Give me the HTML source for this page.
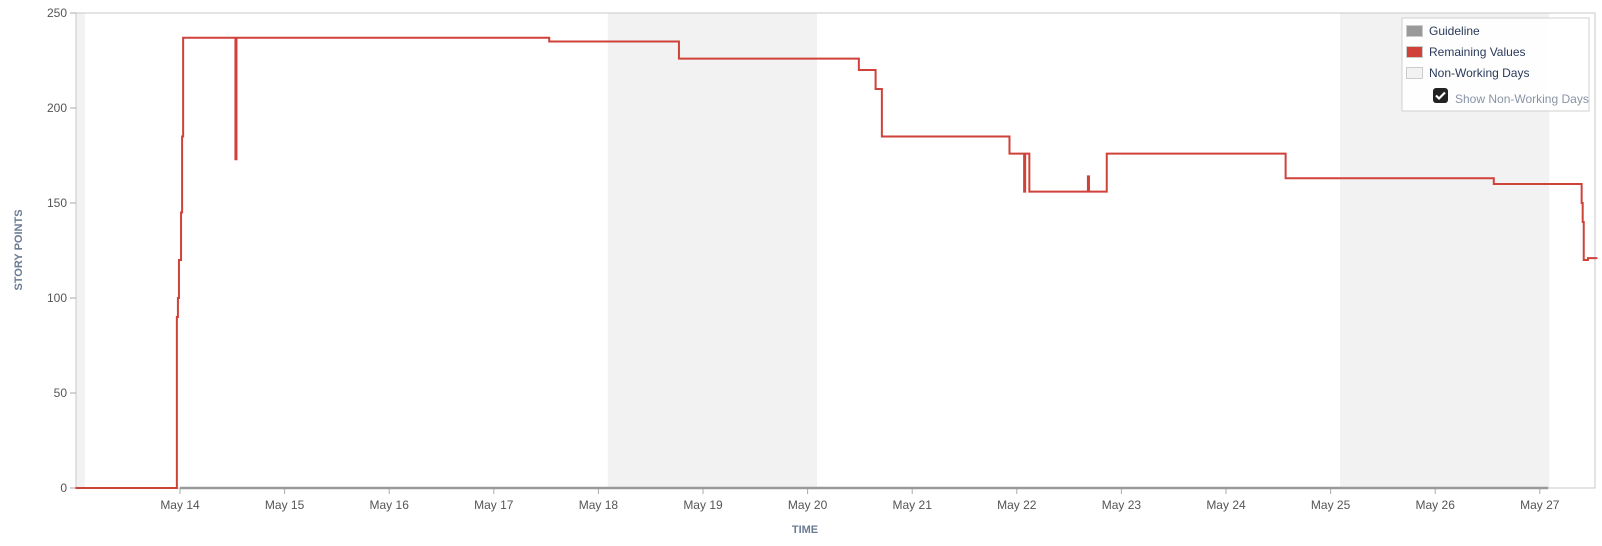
<!DOCTYPE html>
<html><head><meta charset="utf-8"><style>
body{margin:0;background:#fff;}
svg{display:block;font-family:"Liberation Sans","DejaVu Sans",sans-serif;}
</style></head><body>
<svg id="chart" width="1602" height="546" viewBox="0 0 1602 546">
<g id="shades"></g>
<rect x="76" y="13" width="1519" height="475" fill="none" stroke="#c8c8c8"/>
<g id="yaxis"></g><g id="xaxis"></g>
<g id="guide"></g><g id="series"></g>
<text x="22" y="250" transform="rotate(-90 22 250)" text-anchor="middle" font-size="11" font-weight="bold" fill="#6b7b94">STORY POINTS</text>
<text x="805" y="533" text-anchor="middle" font-size="11" font-weight="bold" fill="#6b7b94">TIME</text>
<g>
<rect x="1402" y="18" width="187" height="93" fill="#fff" fill-opacity="0.92" stroke="#d0d0d0"/>
<g><rect x="1406.5" y="25.5" width="16" height="11" fill="#999" stroke="#ccc"/><text x="1429" y="35" font-size="12" fill="#2a3a5a">Guideline</text></g>
<g><rect x="1406.5" y="46.5" width="16" height="11" fill="#d0413a" stroke="#ccc"/><text x="1429" y="56" font-size="12" fill="#2a3a5a">Remaining Values</text></g>
<g><rect x="1406.5" y="67.5" width="16" height="11" fill="#f2f2f2" stroke="#ccc"/><text x="1429" y="77" font-size="12" fill="#2a3a5a">Non-Working Days</text></g>
<g><rect x="1433" y="88" width="15" height="15" rx="3" fill="#222"/><path d="M1436 95.5l3 3 6-6" stroke="#fff" stroke-width="2.2" fill="none"/><text x="1455" y="103" font-size="12" fill="#8a94a6">Show Non-Working Days</text></g>
</g>
</svg>
<script>
const NS='http://www.w3.org/2000/svg';
// data: t = days since May 14 00:00
const yTicks=[0,50,100,150,200,250];
const xTickLabels=['May 14','May 15','May 16','May 17','May 18','May 19','May 20','May 21','May 22','May 23','May 24','May 25','May 26','May 27'];
const weekendStarts=[-3,4,11];
const stepTimes=[-1,-0.03,-0.02,-0.01,0.01,0.02,0.03,0.53,0.54,3.53,4.77,6.49,6.65,6.71,7.93,8.07,8.08,8.12,8.68,8.69,8.86,10.57,12.56,13.40,13.41,13.42,13.46,13.55];
const stepValues=[0,90,100,120,145,185,237,173,237,235,226,220,210,185,176,156,176,156,164,156,176,163,160,150,140,120,121,121];
const guideTimes=[0,13.08];
const guideValues=[0,0];
const X=t=>180+t*104.6, Y=v=>488-v*1.9;
function el(tag,a,p){const e=document.createElementNS(NS,tag);for(const k in a)e.setAttribute(k,a[k]);p.appendChild(e);return e;}
const sh=document.getElementById('shades');
weekendStarts.forEach((d,i)=>{const x0=Math.max(76,X(d+0.09)),x1=Math.min(1595,X(d+2.09));
const r=el('rect',{x:x0,y:13,width:x1-x0,height:475,fill:'#f2f2f2'},sh);

});
const ya=document.getElementById('yaxis');
yTicks.forEach(v=>{el('line',{x1:70,x2:76,y1:Y(v),y2:Y(v),stroke:'#aaa'},ya);
const t=el('text',{x:67,y:Y(v)+4,'text-anchor':'end','font-size':12,fill:'#555'},ya);t.textContent=v;

});
const xa=document.getElementById('xaxis');
xTickLabels.forEach((l,i)=>{el('line',{x1:X(i),x2:X(i),y1:488,y2:494,stroke:'#aaa'},xa);
const t=el('text',{x:X(i),y:509,'text-anchor':'middle','font-size':12,fill:'#555'},xa);t.textContent=l;

});
const g=el('path',{d:guideTimes.map((t,i)=>(i?'L':'M')+X(t)+' '+Y(guideValues[i])).join(''),stroke:'#999',"stroke-width":2.5,fill:'none'},document.getElementById('guide'));


let d='M'+X(stepTimes[0])+' '+Y(stepValues[0]);
for(let i=1;i<stepTimes.length;i++){d+='H'+X(stepTimes[i])+'V'+Y(stepValues[i]);}
d+='H1595';
const s=el('path',{d:d,stroke:'#d0413a','stroke-width':2,fill:'none'},document.getElementById('series'));


</script>
</body></html>
